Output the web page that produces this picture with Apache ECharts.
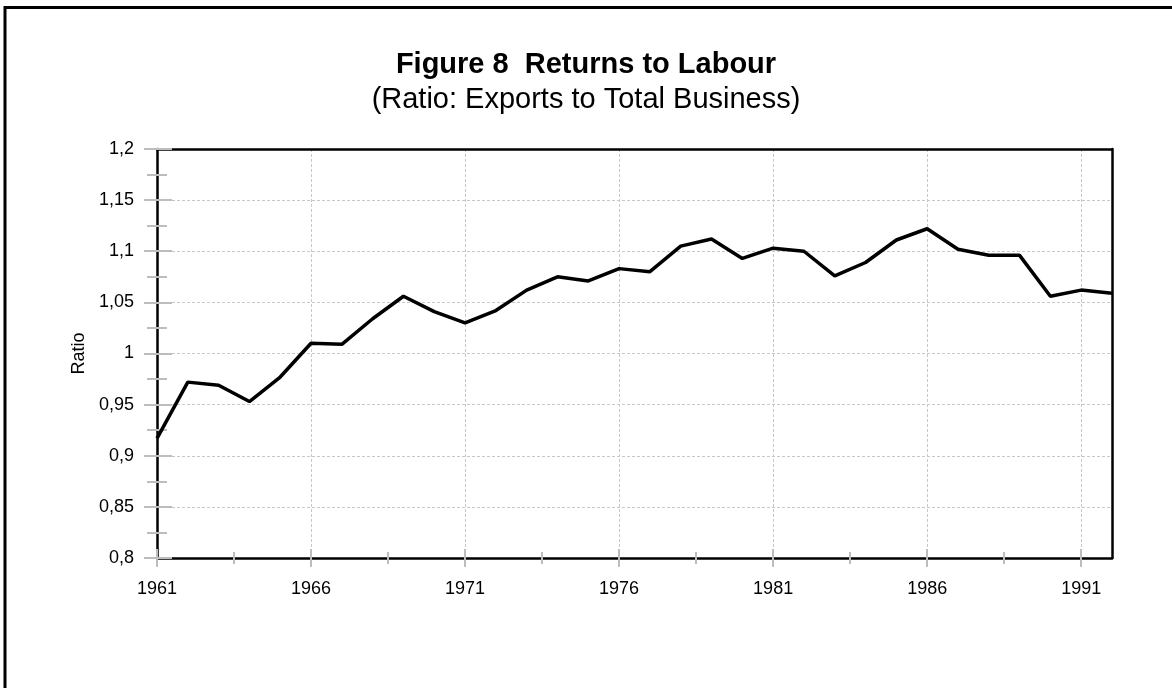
<!DOCTYPE html>
<html>
<head>
<meta charset="UTF-8">
<title>Figure 8 Returns to Labour</title>
<script type="text/javascript" src="https://cdn.jsdelivr.net/npm/echarts@6/dist/echarts.min.js"></script>
<style>
  body{margin:0;background:#fff}
</style>
</head>
<body>
<div id="main" style="width:1172px;height:688px"></div>
<script type="text/javascript">
// values
var years = [1961, 1962, 1963, 1964, 1965, 1966, 1967, 1968, 1969, 1970, 1971,
             1972, 1973, 1974, 1975, 1976, 1977, 1978, 1979, 1980, 1981, 1982,
             1983, 1984, 1985, 1986, 1987, 1988, 1989, 1990, 1991, 1992];
var ratio = [0.917, 0.972, 0.969, 0.953, 0.977, 1.010, 1.009, 1.034, 1.056, 1.041, 1.030,
             1.042, 1.062, 1.075, 1.071, 1.083, 1.080, 1.105, 1.112, 1.093, 1.103, 1.100,
             1.076, 1.089, 1.111, 1.122, 1.102, 1.096, 1.096, 1.056, 1.062, 1.059];

// tick positions
var xMajor = [1961, 1966, 1971, 1976, 1981, 1986, 1991];
var xMinor = [1963.5, 1968.5, 1973.5, 1978.5, 1983.5, 1988.5];
var yMajor = [0.8, 0.85, 0.9, 0.95, 1, 1.05, 1.1, 1.15, 1.2];
var yMinor = [0.825, 0.875, 0.925, 0.975, 1.025, 1.075, 1.125, 1.175];

var font = "'Liberation Sans', Arial, sans-serif";
var tickGray = '#bdbdbd';

var myChart = echarts.init(document.getElementById('main'));

// one axis per tick set, so ticks can cross the axis line (inside + outside)
function xTickAxis(values, len, inside) {
    return {
        type: 'value', position: 'bottom', min: 1961, max: 1992, interval: 5, z: 4,
        axisLine: {show: false},
        axisLabel: {show: false},
        splitLine: {show: false},
        axisTick: {show: true, inside: inside, length: len, customValues: values,
                   lineStyle: {color: tickGray, width: 2}}
    };
}
function yTickAxis(values, len, inside) {
    return {
        type: 'value', position: 'left', min: 0.8, max: 1.2, interval: 0.05, z: 4,
        axisLine: {show: false},
        axisLabel: {show: false},
        splitLine: {show: false},
        axisTick: {show: true, inside: inside, length: len, customValues: values,
                   lineStyle: {color: tickGray, width: 2}}
    };
}
// plain black frame lines for the top and right sides of the plot
function frameAxis(pos, isX) {
    var a = {
        type: 'value', position: pos, z: 3,
        axisLine: {show: true, onZero: false, lineStyle: {color: '#000', width: 2.5}},
        axisTick: {show: false},
        axisLabel: {show: false},
        splitLine: {show: false}
    };
    if (isX) { a.min = 1961; a.max = 1992; } else { a.min = 0.8; a.max = 1.2; }
    return a;
}

var option = {
    backgroundColor: '#fff',
    animation: false,
    textStyle: {fontFamily: font, color: '#000'},
    title: [{
        text: 'Figure 8  Returns to Labour',
        left: 'center', top: 45,
        textStyle: {fontSize: 29, fontWeight: 'bold', color: '#000', fontFamily: font}
    }, {
        text: '(Ratio: Exports to Total Business)',
        left: 'center', top: 80,
        textStyle: {fontSize: 29, fontWeight: 'normal', color: '#000', fontFamily: font}
    }],
    grid: {
        left: 157, right: 60, top: 149, bottom: 130,
        outerBoundsMode: 'none'
    },
    xAxis: [{
        type: 'value', position: 'bottom', min: 1961, max: 1992, interval: 5, z: 3,
        axisLine: {show: true, onZero: false, lineStyle: {color: '#000', width: 2.5}},
        axisTick: {show: true, inside: true, length: 9, customValues: xMajor,
                   lineStyle: {color: tickGray, width: 2}},
        axisLabel: {
            customValues: xMajor, margin: 22, fontSize: 18, color: '#000', fontFamily: font,
            formatter: function (v) { return String(v); }
        },
        splitLine: {show: true, lineStyle: {color: '#c8c8c8', type: [3, 2], width: 1}}
    },
        xTickAxis(xMajor, 9, false),
        xTickAxis(xMinor, 6, true),
        xTickAxis(xMinor, 6, false),
        frameAxis('top', true)
    ],
    yAxis: [{
        type: 'value', position: 'left', min: 0.8, max: 1.2, interval: 0.05, z: 3,
        name: 'Ratio', nameLocation: 'middle', nameGap: 67, nameRotate: 90,
        nameTextStyle: {fontSize: 18, color: '#000', fontFamily: font},
        axisLine: {show: true, onZero: false, lineStyle: {color: '#000', width: 2.5}},
        axisTick: {show: true, inside: true, length: 15, customValues: yMajor,
                   lineStyle: {color: tickGray, width: 2}},
        axisLabel: {
            margin: 23, fontSize: 18, color: '#000', fontFamily: font,
            formatter: function (v) {
                return String(+v.toFixed(3)).replace('.', ',');
            }
        },
        splitLine: {show: true, lineStyle: {color: '#c8c8c8', type: [3, 2], width: 1}}
    },
        yTickAxis(yMajor, 13, false),
        yTickAxis(yMinor, 10, true),
        yTickAxis(yMinor, 10, false),
        frameAxis('right', false)
    ],
    graphic: [{
        type: 'polyline', silent: true,
        shape: {points: [[5, 688], [5, 7.5], [1172, 7.5]]},
        style: {stroke: '#000', lineWidth: 3, fill: null}
    }],
    series: [{
        name: 'Ratio',
        type: 'line',
        xAxisIndex: 0,
        yAxisIndex: 0,
        showSymbol: false,
        z: 5,
        lineStyle: {color: '#000', width: 3.5},
        data: years.map(function (y, i) {
            return [y, ratio[i]];
        })
    }]
};
myChart.setOption(option);
</script>
</body>
</html>
